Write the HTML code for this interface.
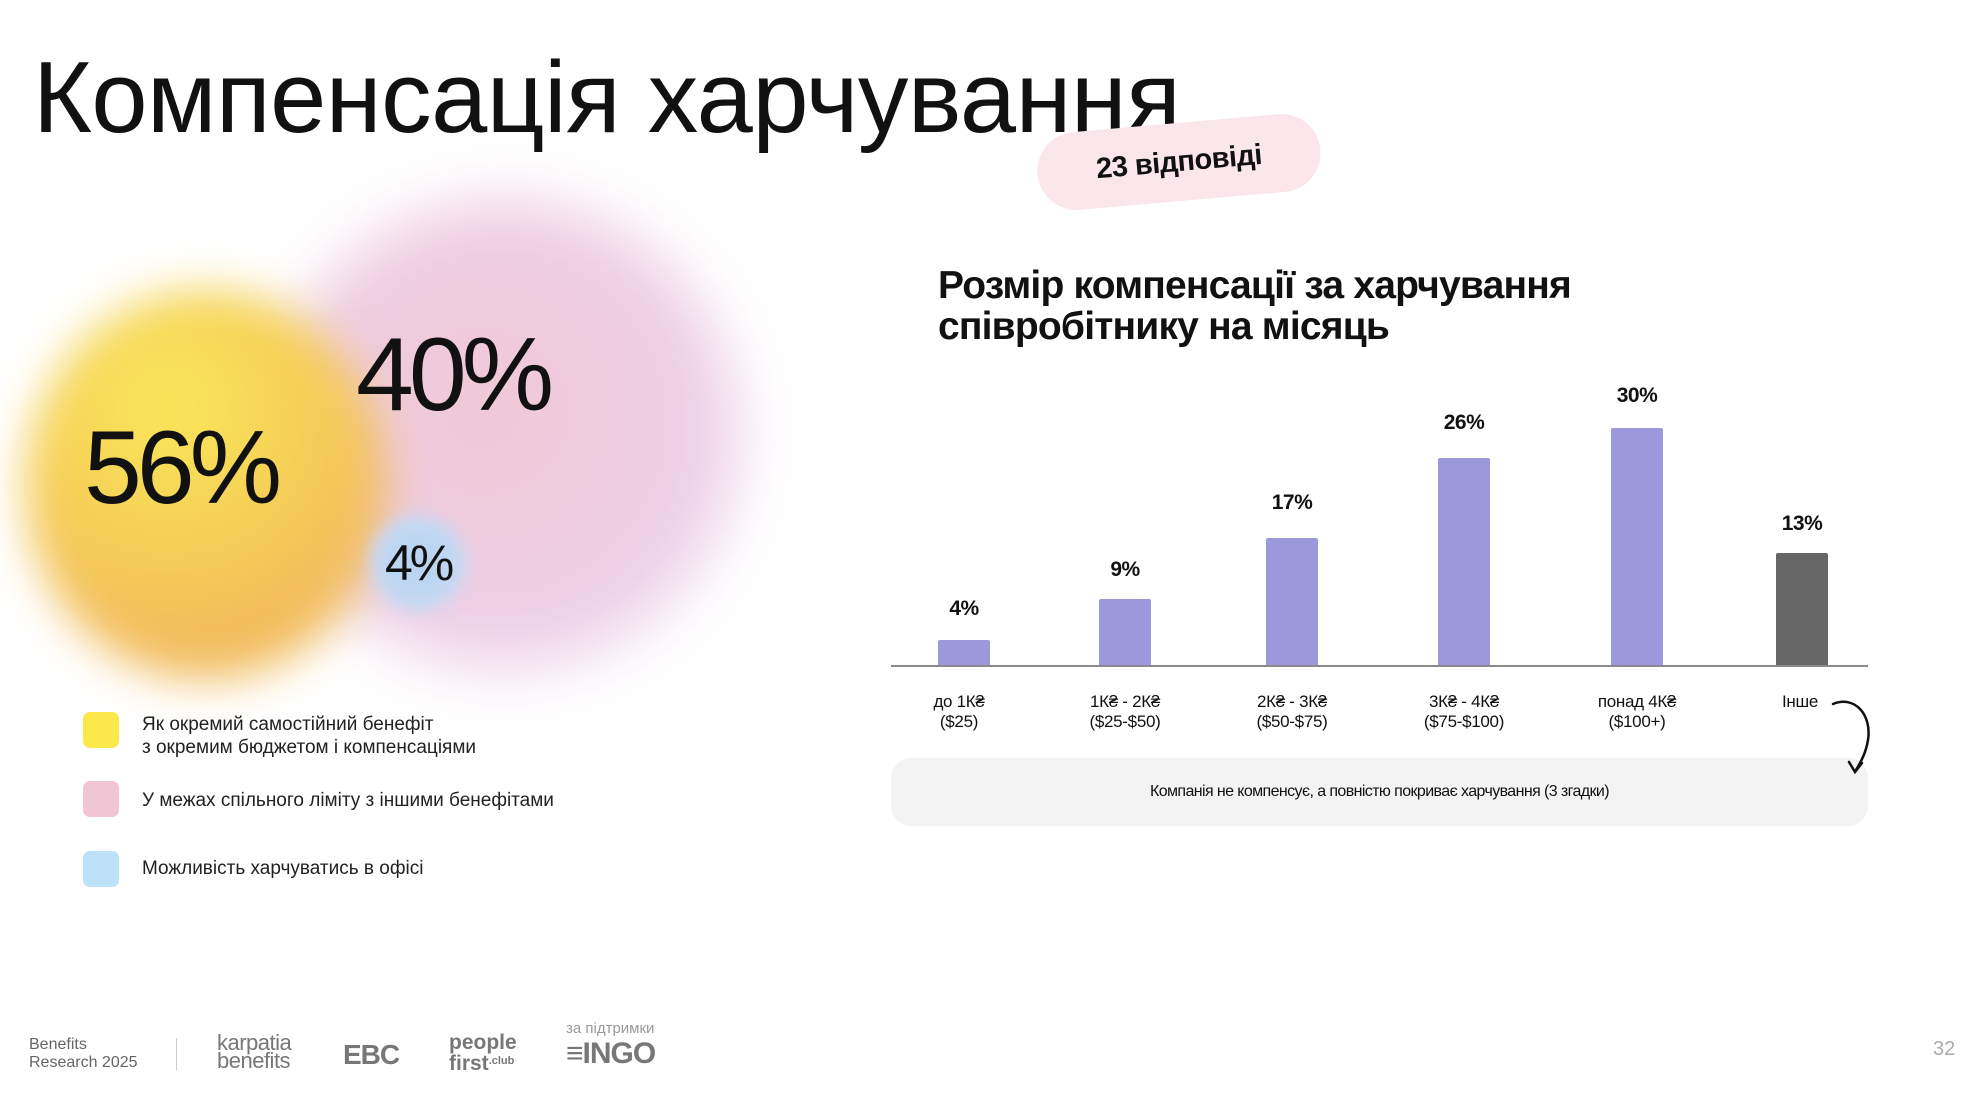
<!DOCTYPE html>
<html><head><meta charset="utf-8">
<style>
html,body{margin:0;padding:0;background:#fff}
body{width:1982px;height:1098px;position:relative;overflow:hidden;font-family:"Liberation Sans","DejaVu Sans",sans-serif;color:#111}
.a{position:absolute;white-space:nowrap}
.blob{position:absolute;border-radius:50%}
.bar{position:absolute;width:52px;background:#9c98dc;border-radius:2px 2px 0 0}
.val{position:absolute;width:100px;text-align:center;font-weight:bold;font-size:21px;letter-spacing:-0.5px}
.cat{position:absolute;width:140px;text-align:center;font-size:17px;line-height:20px;letter-spacing:-0.3px}
.leg{position:absolute;left:83px;width:36px;height:36px;border-radius:7px}
.lt{position:absolute;left:142px;font-size:19px;line-height:23px;color:#222}
</style></head><body>

<div class="blob" style="left:270px;top:200px;width:470px;height:470px;filter:blur(30px);background:radial-gradient(circle at 45% 45%,#f0c8d6 0%,#efcde2 50%,#ead8f0 80%,rgba(240,225,245,0.6) 100%);"></div>
<div class="blob" style="left:25px;top:290px;width:360px;height:390px;filter:blur(22px);background:radial-gradient(circle at 40% 30%,#f9e85a 0%,#f6d257 35%,#f2bd5a 65%,#efb866 100%);"></div>
<div class="blob" style="left:370px;top:515px;width:96px;height:96px;filter:blur(8px);background:radial-gradient(circle,#b5d2f0 0%,#c2d8f3 60%,#d4e2f5 100%);"></div>

<div class="a" style="left:33px;top:38px;font-size:101px;letter-spacing:-0.5px;line-height:120px">Компенсація харчування</div>

<div class="a" style="left:1037px;top:123px;width:284px;height:78px;border-radius:39px;background:#fbe6ec;transform:rotate(-5deg);text-align:center;line-height:78px;font-size:29px;font-weight:bold;letter-spacing:-0.5px">23 відповіді</div>

<div class="a" style="left:84px;top:408px;font-size:104px;letter-spacing:-5px;line-height:120px">56%</div>
<div class="a" style="left:356px;top:315px;font-size:104px;letter-spacing:-5px;line-height:120px">40%</div>
<div class="a" style="left:385px;top:535px;font-size:50px;letter-spacing:-3px;line-height:56px">4%</div>

<div class="leg" style="top:712px;background:#fbe94a"></div>
<div class="leg" style="top:781px;background:#f2c5d5"></div>
<div class="leg" style="top:851px;background:#bde1f8"></div>
<div class="lt" style="top:713px">Як окремий самостійний бенефіт<br>з окремим бюджетом і компенсаціями</div>
<div class="lt" style="top:789px">У межах спільного ліміту з іншими бенефітами</div>
<div class="lt" style="top:857px">Можливість харчуватись в офісі</div>

<div class="a" style="left:938px;top:265px;font-size:39px;font-weight:bold;line-height:41px;letter-spacing:-0.8px">Розмір компенсації за харчування<br>співробітнику на місяць</div>

<div class="a" style="left:891px;top:665px;width:977px;height:2px;background:#8a8a8a"></div>
<div class="bar" style="left:938px;top:640px;height:25px"></div>
<div class="bar" style="left:1099px;top:599px;height:66px"></div>
<div class="bar" style="left:1266px;top:538px;height:127px"></div>
<div class="bar" style="left:1438px;top:458px;height:207px"></div>
<div class="bar" style="left:1611px;top:428px;height:237px"></div>
<div class="bar" style="left:1776px;top:553px;height:112px;background:#666"></div>

<div class="val" style="left:914px;top:597px">4%</div>
<div class="val" style="left:1075px;top:558px">9%</div>
<div class="val" style="left:1242px;top:491px">17%</div>
<div class="val" style="left:1414px;top:411px">26%</div>
<div class="val" style="left:1587px;top:384px">30%</div>
<div class="val" style="left:1752px;top:512px">13%</div>

<div class="cat" style="left:889px;top:692px">до 1К₴<br>($25)</div>
<div class="cat" style="left:1055px;top:692px">1К₴ - 2К₴<br>($25-$50)</div>
<div class="cat" style="left:1222px;top:692px">2К₴ - 3К₴<br>($50-$75)</div>
<div class="cat" style="left:1394px;top:692px">3К₴ - 4К₴<br>($75-$100)</div>
<div class="cat" style="left:1567px;top:692px">понад 4К₴<br>($100+)</div>
<div class="cat" style="left:1730px;top:692px">Інше</div>

<div class="a" style="left:891px;top:758px;width:977px;height:68px;border-radius:20px;background:#f3f3f3;text-align:center;line-height:68px;font-size:16px;letter-spacing:-0.6px">Компанія не компенсує, а повністю покриває харчування (3 згадки)</div>

<svg class="a" style="left:1820px;top:690px" width="60" height="90" viewBox="0 0 60 90">
<path d="M13 14 C35 5,52 25,48 50 C46 62,42 70,36 80" fill="none" stroke="#111" stroke-width="2.5" stroke-linecap="round"/>
<path d="M29 72 L35 82 L42 73" fill="none" stroke="#111" stroke-width="2.5" stroke-linecap="round"/>
</svg>

<div class="a" style="left:29px;top:1036px;font-size:16px;line-height:18px;color:#666">Benefits<br>Research 2025</div>
<div class="a" style="left:176px;top:1038px;width:1px;height:32px;background:#ccc"></div>
<div class="a" style="left:217px;top:1034px;font-size:22px;line-height:18px;color:#777;letter-spacing:-0.5px">karpatia<br>benefits</div>
<div class="a" style="left:343px;top:1040px;font-size:28px;line-height:30px;font-weight:bold;color:#777;letter-spacing:-1px">EBC</div>
<div class="a" style="left:449px;top:1034px;font-size:21px;line-height:18px;font-weight:bold;color:#777">people<br>first<span style="font-size:11px;vertical-align:6px">.club</span></div>
<div class="a" style="left:566px;top:1020px;font-size:15px;color:#999">за підтримки</div>
<div class="a" style="left:566px;top:1038px;font-size:30px;line-height:32px;color:#777;letter-spacing:-1px">≡<b>INGO</b></div>
<div class="a" style="left:1933px;top:1038px;font-size:20px;color:#aaa">32</div>
</body></html>
